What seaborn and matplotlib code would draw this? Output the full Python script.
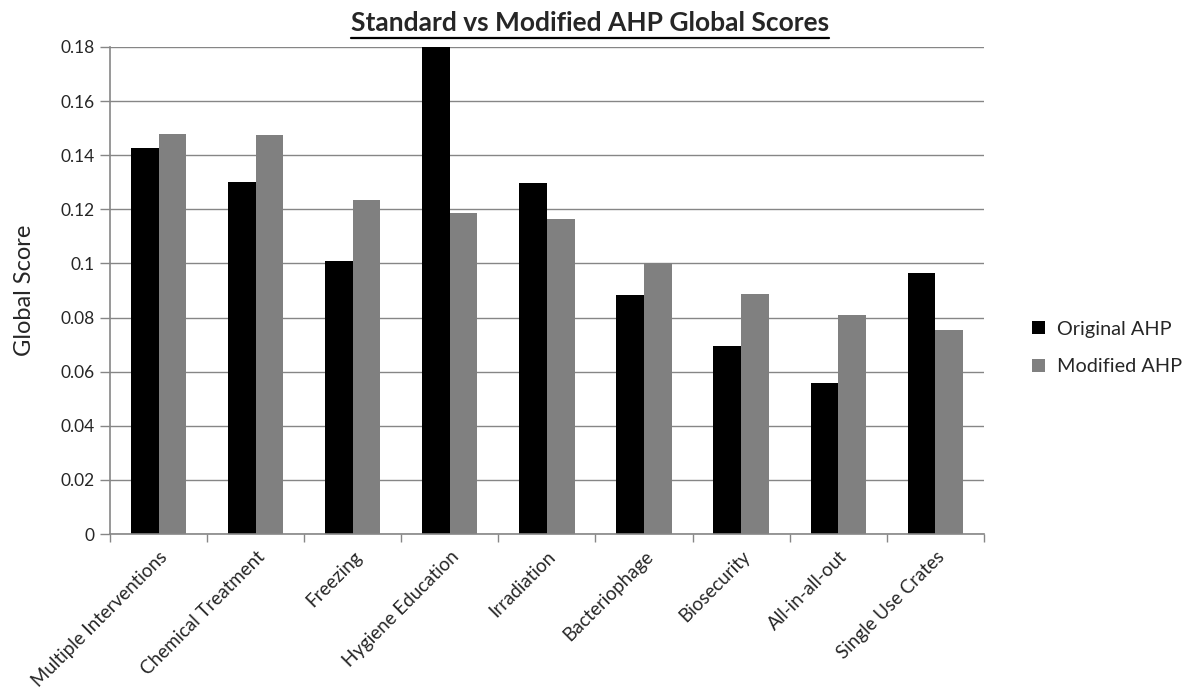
import matplotlib
matplotlib.use("Agg")
import matplotlib.pyplot as plt
from matplotlib.lines import Line2D
from matplotlib.ticker import FixedLocator, NullFormatter
import seaborn as sns
import pandas as pd

categories = ["Multiple Interventions", "Chemical Treatment", "Freezing",
              "Hygiene Education", "Irradiation", "Bacteriophage",
              "Biosecurity", "All-in-all-out", "Single Use Crates"]
original_ahp = [0.1427, 0.1301, 0.1010, 0.1800, 0.1297, 0.0883, 0.0695, 0.0558, 0.0965]
modified_ahp = [0.1478, 0.1475, 0.1234, 0.1186, 0.1164, 0.1002, 0.0887, 0.0809, 0.0754]
series_names = ["Original AHP", "Modified AHP"]
y_ticks = [0, 0.02, 0.04, 0.06, 0.08, 0.1, 0.12, 0.14, 0.16, 0.18]
y_tick_labels = ["0", "0.02", "0.04", "0.06", "0.08", "0.1", "0.12", "0.14", "0.16", "0.18"]

df = pd.DataFrame({
    "Intervention": categories * 2,
    "Score": original_ahp + modified_ahp,
    "Method": [series_names[0]] * len(categories) + [series_names[1]] * len(categories),
})

sns.set_theme(style="white")
plt.rcParams["font.family"] = ["Lato", "DejaVu Sans"]

fig = plt.figure(figsize=(11.94, 6.90), dpi=100)
ax = fig.add_axes([0.0921, 0.226, 0.7319, 0.706])

sns.barplot(data=df, x="Intervention", y="Score", hue="Method",
            palette=["#000000", "#808080"], width=0.57, gap=0,
            saturation=1, linewidth=0, ax=ax, legend=True)

ax.set_ylim(0, 0.18)
ax.set_xlim(-0.5, len(categories) - 0.5)
ax.set_yticks(y_ticks)
ax.set_yticklabels(y_tick_labels, fontsize=12.5)
ax.grid(axis="y", color="#868686", linewidth=1.0)
ax.set_axisbelow(True)

# category labels at bar-group centres, tick marks at group boundaries
ax.set_xticks(range(len(categories)))
ax.set_xticklabels(categories, rotation=45, ha="right", rotation_mode="anchor", fontsize=13.5)
ax.tick_params(axis="x", which="major", length=0, pad=10)
ax.xaxis.set_minor_locator(FixedLocator([i - 0.5 for i in range(len(categories) + 1)]))
ax.xaxis.set_minor_formatter(NullFormatter())
ax.tick_params(axis="x", which="minor", length=6, width=1, color="#868686", bottom=True)
ax.tick_params(axis="y", length=7, width=1, color="#868686", left=True, pad=4)

for side in ["top", "right"]:
    ax.spines[side].set_visible(False)
for side in ["left", "bottom"]:
    ax.spines[side].set_color("#868686")
    ax.spines[side].set_linewidth(1.2)

ax.set_xlabel("")
ax.set_ylabel("Global Score", fontsize=17, labelpad=18)

leg = ax.legend(loc="center left", bbox_to_anchor=(1.035, 0.382), frameon=False,
                fontsize=14.3, handlelength=0.65, handleheight=0.65, handletextpad=0.6,
                labelspacing=1.05)

title = fig.text(0.494, 0.955, "Standard vs Modified AHP Global Scores",
                 ha="center", va="baseline", fontsize=19, fontweight="bold")

# underline beneath the title
fig.canvas.draw()
bb = title.get_window_extent().transformed(fig.transFigure.inverted())
fig.add_artist(Line2D([bb.x0, bb.x1], [bb.y0 - 0.004, bb.y0 - 0.004],
                      transform=fig.transFigure, color="black", linewidth=1.6))

fig.savefig("out.png", dpi=100)
